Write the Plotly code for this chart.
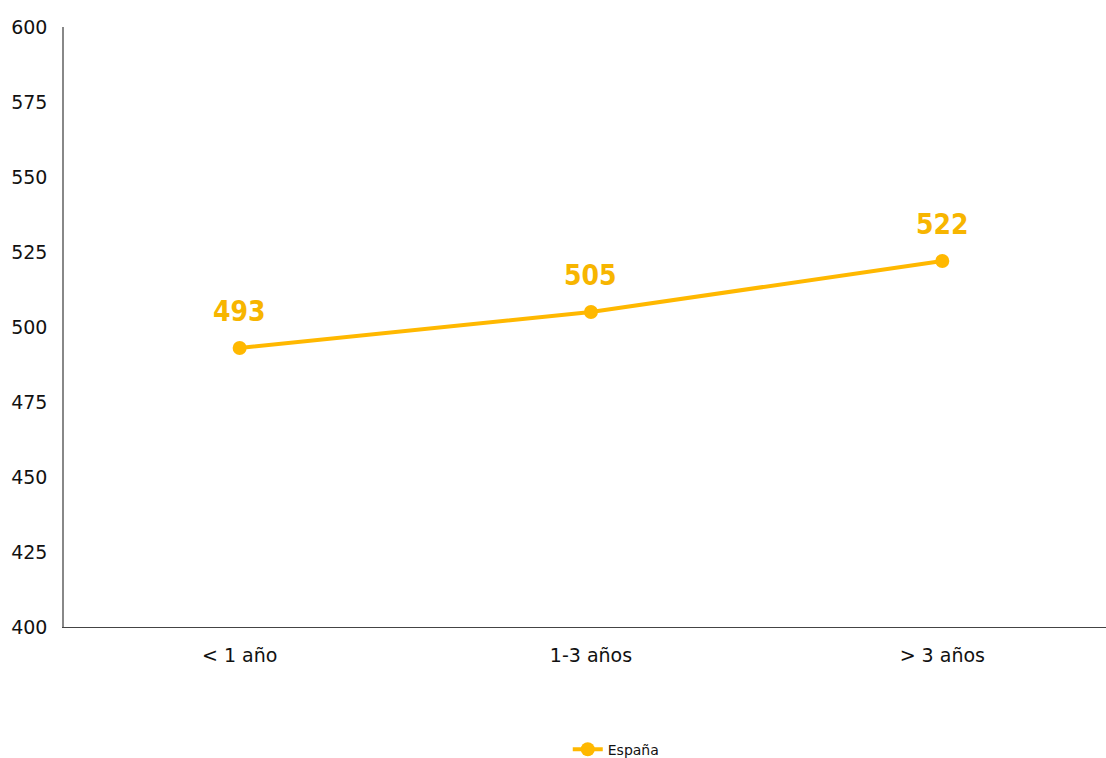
import plotly.graph_objects as go

# Puntuación media por antigüedad
categories = ["< 1 año", "1-3 años", "> 3 años"]
espana = [493, 505, 522]
y_ticks = [400, 425, 450, 475, 500, 525, 550, 575, 600]

gold = "#FFB800"
label_gold = "#F7B500"

fig = go.Figure()
fig.add_trace(go.Scatter(
    x=categories, y=espana, name="España",
    mode="lines+markers",
    line=dict(color=gold, width=4),
    marker=dict(color=gold, size=14),
))

for cat, val in zip(categories, espana):
    fig.add_annotation(
        x=cat, y=val, text=f"<b>{val}</b>", showarrow=False,
        yshift=37,
        font=dict(family="Liberation Sans Narrow, DejaVu Sans Condensed, Roboto",
                  size=28, color=label_gold),
    )

fig.update_layout(
    width=1106, height=758,
    margin=dict(l=64, r=0, t=27, b=131),
    paper_bgcolor="white", plot_bgcolor="white",
    font=dict(family="DejaVu Sans", size=19, color="#111111"),
    showlegend=True,
    legend=dict(orientation="h", x=0.530, xanchor="center",
                yref="container", y=0.011, yanchor="middle",
                font=dict(size=14)),
    xaxis=dict(
        type="category", range=[-0.5, 2.466],
        showline=True, linecolor="#444444", linewidth=1,
        showgrid=False, ticks="", ticklabelstandoff=11,
    ),
    yaxis=dict(
        range=[400, 600], tickvals=y_ticks,
        showline=True, linecolor="#888888", linewidth=1.5,
        showgrid=False, zeroline=False, ticks="", ticklabelstandoff=11,
    ),
)

fig.write_html("out.html")
